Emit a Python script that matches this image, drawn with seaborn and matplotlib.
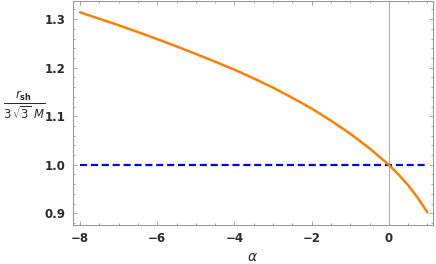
import numpy as np
import pandas as pd
import seaborn as sns
import matplotlib
matplotlib.use("Agg")
import matplotlib.pyplot as plt
from matplotlib.ticker import MultipleLocator

# %% data
alpha = [-8, -7.5, -7, -6.5, -6, -5.5, -5, -4.5, -4, -3.5, -3, -2.5, -2,
         -1.5, -1, -0.5, 0, 0.25, 0.5, 0.75, 1]
r_ratio = [1.314, 1.301, 1.2875, 1.2735, 1.259, 1.244, 1.2285, 1.2125, 1.196,
           1.178, 1.159, 1.138, 1.116, 1.091, 1.064, 1.034, 1.0, 0.980,
           0.958, 0.932, 0.902]
ref_alpha = [-8, 1]
ref_ratio = [1.0, 1.0]

x_ticks = [-8, -6, -4, -2, 0]
y_ticks = [0.9, 1.0, 1.1, 1.2, 1.3]

curve = pd.DataFrame(dict(alpha=alpha, ratio=r_ratio))
ref = pd.DataFrame(dict(alpha=ref_alpha, ratio=ref_ratio))

# %% style
sns.set_style("ticks")
plt.rcParams["font.family"] = ["DejaVu Sans"]
plt.rcParams["mathtext.fontset"] = "dejavusans"

frame_c = "#9a9a9a"
text_c = "#2b2b2b"

fig = plt.figure(figsize=(4.36, 2.64), dpi=100)
ax = fig.add_axes([0.1667, 0.149, 0.826, 0.849])

ax.axvline(0, color="#b0b0b0", lw=0.8, zorder=1)

sns.lineplot(data=ref, x="alpha", y="ratio", color="#0000ff", lw=1.6,
             dashes=False, ax=ax, zorder=2)
ax.lines[-1].set_dashes([3.2, 1.7])
sns.lineplot(data=curve, x="alpha", y="ratio", color="#ff8000", lw=1.8,
             ax=ax, zorder=3)

ax.set_xlim(-8.19, 1.14)
ax.set_ylim(0.8766, 1.3384)
ax.set_xticks(x_ticks)
ax.set_yticks(y_ticks)
ax.set_xticklabels(["\u22128", "\u22126", "\u22124", "\u22122", "0"])
ax.set_yticklabels([f"{v:.1f}" for v in y_ticks])
ax.xaxis.set_minor_locator(MultipleLocator(0.5))
ax.yaxis.set_minor_locator(MultipleLocator(0.02))

for s in ax.spines.values():
    s.set_color(frame_c)
    s.set_linewidth(0.8)

ax.tick_params(which="both", direction="in", top=True, right=True,
               color=frame_c, width=0.6)
ax.tick_params(which="major", length=3, labelsize=8.5, labelcolor=text_c, pad=5)
ax.tick_params(which="minor", length=1.6)
for lab in ax.get_xticklabels() + ax.get_yticklabels():
    lab.set_fontweight("bold")

ax.set_xlabel(r"$\alpha$", fontsize=10, color=text_c, labelpad=4)
ax.set_ylabel(r"$\frac{r_{\mathbf{sh}}}{3\,\sqrt{3}\ M}$", fontsize=12,
              color=text_c, rotation=0, labelpad=0)
ax.yaxis.set_label_coords(-0.135, 0.53)
ax.yaxis.label.set_horizontalalignment("center")
ax.yaxis.label.set_verticalalignment("center")

fig.savefig("out.png", dpi=100)
